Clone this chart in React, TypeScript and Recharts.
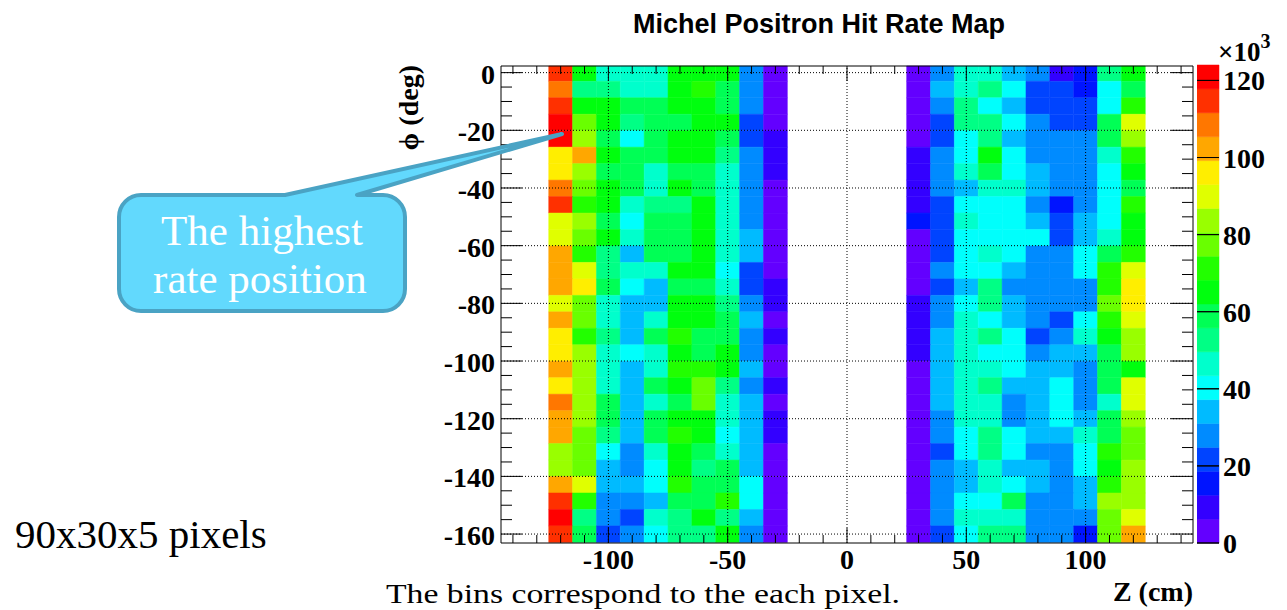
import React from "react";
import { ScatterChart, XAxis, YAxis, ReferenceArea, ReferenceLine } from "recharts";

// Z bins (cm): lower edges of the two instrumented halves, 10 cm wide
const zLowUpstream = [-125, -115, -105, -95, -85, -75, -65, -55, -45, -35];
const zLowDownstream = [25, 35, 45, 55, 65, 75, 85, 95, 105, 115];
const zBinWidth = 10;

// phi bins (deg): 29 rows, listed from the top edge downwards
const phiTopEdge = 2.7;
const phiBinWidth = 5.71;

// hit rate (x10^3), one row per phi bin, columns follow zLowUpstream
const upstreamRate = [
  [115, 65, 47, 47, 47, 65, 65, 65, 28, 3],
  [109, 53, 53, 47, 47, 65, 71, 59, 28, 3],
  [115, 65, 65, 59, 59, 65, 65, 59, 28, 3],
  [121, 78, 65, 53, 59, 59, 65, 65, 22, 3],
  [123, 84, 59, 40, 59, 65, 65, 59, 22, 9],
  [96, 102, 65, 59, 59, 65, 65, 53, 28, 9],
  [96, 84, 59, 59, 47, 59, 59, 47, 28, 9],
  [109, 78, 65, 59, 47, 65, 59, 47, 28, 3],
  [115, 71, 65, 47, 53, 53, 65, 47, 28, 3],
  [90, 84, 59, 40, 59, 59, 65, 47, 28, 3],
  [90, 78, 65, 47, 59, 59, 65, 47, 34, 3],
  [102, 71, 53, 34, 59, 59, 65, 47, 34, 3],
  [102, 90, 53, 47, 47, 65, 65, 40, 22, 3],
  [102, 96, 59, 40, 34, 59, 59, 47, 22, 9],
  [90, 78, 47, 34, 34, 65, 65, 53, 28, 9],
  [102, 78, 47, 34, 47, 65, 65, 59, 34, 3],
  [96, 71, 53, 34, 59, 71, 59, 59, 28, 9],
  [96, 84, 47, 40, 47, 65, 59, 65, 28, 3],
  [102, 84, 47, 34, 47, 71, 71, 65, 34, 3],
  [96, 84, 47, 34, 59, 65, 78, 53, 28, 9],
  [109, 84, 59, 34, 47, 59, 78, 47, 34, 3],
  [102, 84, 59, 34, 59, 65, 65, 47, 34, 9],
  [102, 78, 53, 34, 59, 71, 65, 40, 34, 9],
  [84, 78, 40, 28, 47, 65, 59, 47, 34, 3],
  [84, 78, 34, 28, 40, 65, 53, 59, 34, 3],
  [102, 90, 34, 34, 40, 71, 59, 59, 40, 3],
  [115, 71, 28, 28, 34, 59, 59, 71, 40, 3],
  [121, 53, 28, 22, 47, 53, 65, 53, 34, 3],
  [115, 59, 22, 28, 40, 53, 53, 65, 28, 3],
];

// hit rate (x10^3), columns follow zLowDownstream
const downstreamRate = [
  [3, 28, 47, 47, 34, 28, 9, 16, 53, 65],
  [3, 34, 47, 53, 40, 22, 22, 16, 40, 59],
  [3, 28, 53, 40, 34, 22, 22, 22, 40, 71],
  [3, 22, 53, 53, 40, 28, 22, 22, 59, 90],
  [3, 22, 40, 53, 34, 28, 28, 28, 59, 84],
  [9, 28, 40, 65, 40, 28, 28, 28, 47, 71],
  [9, 28, 47, 59, 40, 34, 28, 28, 40, 65],
  [9, 28, 34, 47, 47, 34, 28, 28, 40, 59],
  [9, 22, 40, 40, 40, 28, 16, 28, 40, 71],
  [16, 22, 47, 40, 40, 34, 22, 34, 40, 65],
  [3, 22, 40, 40, 40, 40, 22, 34, 47, 65],
  [3, 22, 40, 47, 40, 28, 28, 40, 59, 71],
  [3, 28, 40, 40, 34, 28, 28, 40, 71, 90],
  [3, 22, 34, 53, 28, 28, 28, 28, 71, 96],
  [9, 28, 40, 53, 34, 28, 28, 28, 78, 96],
  [9, 28, 47, 40, 34, 28, 22, 40, 71, 90],
  [9, 34, 47, 53, 40, 22, 28, 47, 65, 84],
  [9, 34, 47, 40, 40, 28, 34, 34, 59, 84],
  [3, 34, 47, 47, 40, 34, 34, 28, 59, 65],
  [3, 34, 47, 53, 34, 34, 40, 28, 59, 90],
  [3, 34, 47, 47, 28, 34, 40, 28, 47, 90],
  [3, 28, 47, 47, 28, 34, 40, 34, 59, 84],
  [3, 28, 40, 53, 40, 34, 34, 47, 59, 78],
  [3, 22, 40, 53, 40, 28, 28, 40, 71, 78],
  [3, 28, 34, 47, 34, 34, 28, 40, 65, 84],
  [3, 28, 34, 47, 40, 34, 28, 34, 71, 84],
  [3, 28, 40, 40, 59, 28, 28, 34, 84, 84],
  [3, 28, 47, 47, 47, 28, 28, 28, 78, 90],
  [3, 22, 40, 53, 53, 28, 28, 16, 78, 102],
];

// axis ticks
const zMajorTicks = [-100, -50, 0, 50, 100];
const zAllTicks = Array.from({ length: 29 }, (_, i) => -140 + i * 10);
const phiMajorTicks = [0, -20, -40, -60, -80, -100, -120, -140, -160];
const phiAllTicks = Array.from({ length: 33 }, (_, i) => -i * 5);
const rateTicks = [0, 20, 40, 60, 80, 100, 120];

const Z_DOMAIN: [number, number] = [-145, 145];
const PHI_DOMAIN: [number, number] = [-163.1, 2.3];
const RATE_MAX = 124;
const N_CONTOURS = 20;

// frame of the map in page pixels
const FRAME = { left: 501, right: 1193, top: 66, bottom: 543 };
const AXIS_FONT = "'Liberation Serif', 'DejaVu Serif', serif";

// ROOT "pretty" palette: 50 hues violet -> red, sampled by 20 contours
function contourColor(k: number) {
  const idx = Math.floor(((k + 0.99) * 50) / N_CONTOURS);
  const hue = 280 - (idx + 1) * 5.6;
  return `hsl(${hue.toFixed(1)}, 100%, 50%)`;
}
function rateColor(v: number) {
  const k = Math.min(N_CONTOURS - 1, Math.floor(v / (RATE_MAX / N_CONTOURS)));
  return contourColor(k);
}

type Cell = { z0: number; z1: number; p0: number; p1: number; rate: number };
const cells: Cell[] = [];
function addHalf(zLow: number[], rates: number[][]) {
  rates.forEach((row, i) => {
    const hi = phiTopEdge - i * phiBinWidth;
    const lo = hi - phiBinWidth;
    row.forEach((rate, j) => {
      cells.push({
        z0: zLow[j],
        z1: zLow[j] + zBinWidth,
        p0: Math.max(lo, PHI_DOMAIN[0]),
        p1: Math.min(hi, PHI_DOMAIN[1]),
        rate,
      });
    });
  });
}
addHalf(zLowUpstream, upstreamRate);
addHalf(zLowDownstream, downstreamRate);

const bands = Array.from({ length: N_CONTOURS }, (_, k) => ({
  lo: (k * RATE_MAX) / N_CONTOURS,
  hi: ((k + 1) * RATE_MAX) / N_CONTOURS,
  color: contourColor(k),
}));

function ZTick(props: any) {
  const { x, payload } = props;
  const v = payload.value;
  const major = zMajorTicks.includes(v);
  const len = major ? 15 : 8;
  return (
    <g>
      <line x1={x} x2={x} y1={FRAME.bottom} y2={FRAME.bottom - len} stroke="#000" />
      <line x1={x} x2={x} y1={FRAME.top} y2={FRAME.top + len} stroke="#000" />
      {major && (
        <text x={x} y={569} textAnchor="middle" fontFamily={AXIS_FONT} fontWeight="bold" fontSize={28} fill="#000">
          {v}
        </text>
      )}
    </g>
  );
}

function PhiTick(props: any) {
  const { y, payload } = props;
  const v = payload.value;
  const major = phiMajorTicks.includes(v);
  return (
    <g>
      <line x1={FRAME.left} x2={FRAME.left + (major ? 21 : 11)} y1={y} y2={y} stroke="#000" />
      <line x1={FRAME.right} x2={FRAME.right - (major ? 22 : 11)} y1={y} y2={y} stroke="#000" />
      {major && (
        <text x={495} y={y + 11} textAnchor="end" fontFamily={AXIS_FONT} fontWeight="bold" fontSize={28} fill="#000">
          {v}
        </text>
      )}
    </g>
  );
}

function RateTick(props: any) {
  const { y, payload } = props;
  return (
    <g>
      <line x1={0} x2={22} y1={y} y2={y} stroke="#000" />
      <text x={26} y={y + 10} textAnchor="start" fontFamily={AXIS_FONT} fontWeight="bold" fontSize={28} fill="#000">
        {payload.value}
      </text>
    </g>
  );
}

function HitMap() {
  return (
    <ScatterChart width={1287} height={610} margin={{ top: FRAME.top, right: 1287 - FRAME.right, bottom: 0, left: 0 }}>
      <XAxis
        type="number"
        dataKey="z"
        domain={Z_DOMAIN}
        allowDataOverflow
        ticks={zAllTicks}
        interval={0}
        height={610 - FRAME.bottom}
        tickLine={false}
        axisLine={false}
        tick={(p: any) => <ZTick {...p} />}
      />
      <YAxis
        type="number"
        dataKey="phi"
        domain={PHI_DOMAIN}
        allowDataOverflow
        ticks={phiAllTicks}
        interval={0}
        width={FRAME.left}
        tickLine={false}
        axisLine={false}
        tick={(p: any) => <PhiTick {...p} />}
      />
      {cells.map((c, i) => (
        <ReferenceArea
          key={i}
          x1={c.z0}
          x2={c.z1}
          y1={c.p0}
          y2={c.p1}
          fill={rateColor(c.rate)}
          fillOpacity={1}
          stroke={rateColor(c.rate)}
          strokeWidth={0.5}
          ifOverflow="visible"
        />
      ))}
      {zMajorTicks.map((v) => (
        <ReferenceLine key={`gx${v}`} x={v} stroke="#000" strokeDasharray="1 2" />
      ))}
      {phiMajorTicks.map((v) => (
        <ReferenceLine key={`gy${v}`} y={v} stroke="#000" strokeDasharray="1 2" />
      ))}
      <ReferenceArea
        x1={Z_DOMAIN[0]}
        x2={Z_DOMAIN[1]}
        y1={PHI_DOMAIN[0]}
        y2={PHI_DOMAIN[1]}
        fill="none"
        fillOpacity={0}
        stroke="#000"
        strokeWidth={1}
        ifOverflow="visible"
      />
    </ScatterChart>
  );
}

// palette axis: one band per contour level, drawn on a 0..1 dummy x range
function ColorBar() {
  return (
    <ScatterChart width={90} height={610} margin={{ top: 65, right: 0, bottom: 0, left: 0 }}>
      <XAxis
        type="number"
        dataKey="u"
        domain={[0, 1]}
        allowDataOverflow
        ticks={[]}
        height={610 - FRAME.bottom}
        tick={false}
        tickLine={false}
        axisLine={false}
      />
      <YAxis
        type="number"
        dataKey="rate"
        orientation="right"
        domain={[0, RATE_MAX]}
        allowDataOverflow
        ticks={rateTicks}
        interval={0}
        width={68}
        tickLine={false}
        axisLine={false}
        tick={(p: any) => <RateTick {...p} />}
      />
      {bands.map((b, k) => (
        <ReferenceArea
          key={k}
          x1={0}
          x2={1}
          y1={b.lo}
          y2={b.hi}
          fill={b.color}
          fillOpacity={1}
          stroke={b.color}
          strokeWidth={0.5}
          ifOverflow="visible"
        />
      ))}
      {rateTicks.map((v) => (
        <ReferenceLine key={`t${v}`} y={v} stroke="#000" strokeWidth={1} />
      ))}
    </ScatterChart>
  );
}

export default function App() {
  return (
    <div style={{ position: "absolute", left: 0, top: 0, width: 1287, height: 610, background: "#fff" }}>
      <div style={{ position: "absolute", left: 0, top: 0 }}>
        <HitMap />
      </div>
      <div style={{ position: "absolute", left: 1197, top: 0 }}>
        <ColorBar />
      </div>
      <svg
        width={1287}
        height={610}
        style={{ position: "absolute", left: 0, top: 0, pointerEvents: "none" }}
      >
        <text x={819} y={33} textAnchor="middle" fontFamily="'Liberation Sans', Arial, sans-serif" fontWeight="bold" fontSize={27} fill="#000">
          Michel Positron Hit Rate Map
        </text>
        <text transform="translate(418,65) rotate(-90)" textAnchor="end" fontFamily={AXIS_FONT} fontWeight="bold" fontSize={28} fill="#000">
          ϕ (deg)
        </text>
        <text x={1193} y={601} textAnchor="end" fontFamily={AXIS_FONT} fontWeight="bold" fontSize={28} fill="#000">
          Z (cm)
        </text>
        <text x={1218} y={61} fontFamily={AXIS_FONT} fontWeight="bold" fontSize={27} fill="#000">
          ×10
          <tspan dy={-13} fontSize={20}>3</tspan>
        </text>

        {/* callout pointing at the hottest bin */}
        <path
          d="M 141 195 L 285 195 L 562 134 L 357 195 L 383 195 A 22 22 0 0 1 405 217 L 405 289 A 22 22 0 0 1 383 311 L 141 311 A 22 22 0 0 1 119 289 L 119 217 A 22 22 0 0 1 141 195 Z"
          fill="#62d9fd"
          stroke="#4aa3c4"
          strokeWidth={4}
          strokeLinejoin="round"
        />
        <text x={262} y={245} textAnchor="middle" fontFamily={AXIS_FONT} fontSize={43} fill="#fff">
          The highest
        </text>
        <text x={260} y={293} textAnchor="middle" fontFamily={AXIS_FONT} fontSize={43} fill="#fff">
          rate position
        </text>

        <text x={15} y={548} fontFamily={AXIS_FONT} fontSize={41} fill="#000">
          90x30x5 pixels
        </text>
        <text
          x={386}
          y={603}
          fontFamily={AXIS_FONT}
          fontSize={28}
          textLength={514}
          lengthAdjust="spacingAndGlyphs"
          fill="#000"
        >
          The bins correspond to the each pixel.
        </text>
      </svg>
    </div>
  );
}
